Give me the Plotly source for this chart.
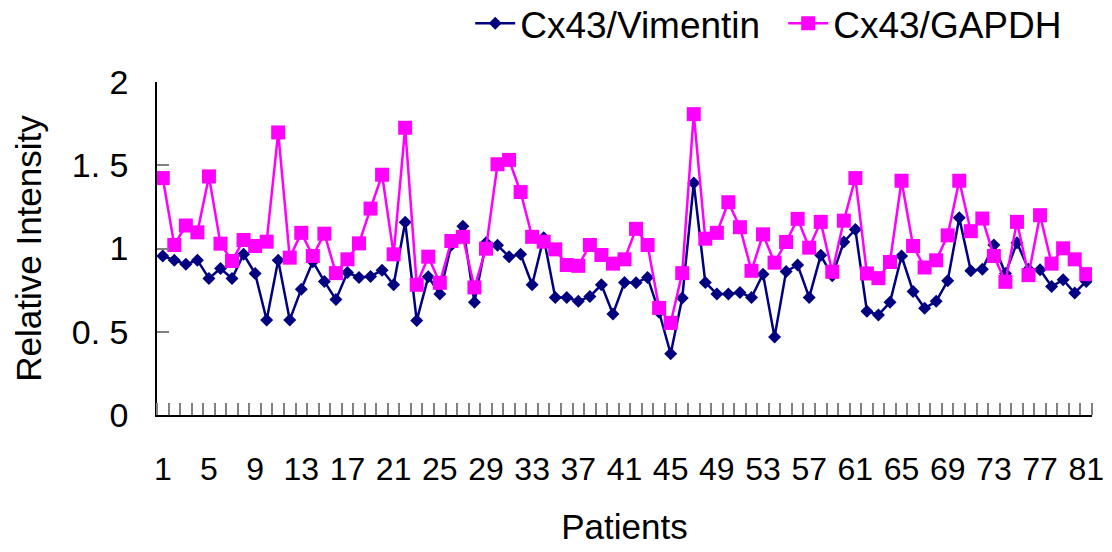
import plotly.graph_objects as go

patients = list(range(1, 82))

vimentin = [0.955, 0.929, 0.905, 0.93, 0.82, 0.88, 0.82, 0.965, 0.85, 0.571,
            0.929, 0.571, 0.756, 0.921, 0.802, 0.693, 0.856, 0.826, 0.832, 0.87,
            0.782, 1.158, 0.567, 0.830, 0.727, 1.021, 1.134, 0.677, 1.035, 1.019,
            0.951, 0.965, 0.782, 1.065, 0.706, 0.706, 0.683, 0.712, 0.782, 0.607,
            0.796, 0.794, 0.826, 0.617, 0.368, 0.703, 1.393, 0.796, 0.727, 0.727,
            0.736, 0.706, 0.846, 0.468, 0.862, 0.901, 0.706, 0.959, 0.836, 1.039,
            1.114, 0.623, 0.601, 0.677, 0.955, 0.742, 0.641, 0.683, 0.806, 1.184,
            0.866, 0.876, 1.021, 0.85, 1.035, 0.876, 0.872, 0.772, 0.812, 0.733,
            0.802]

gapdh = [1.423, 1.021, 1.138, 1.097, 1.433, 1.029, 0.925, 1.051, 1.015, 1.041,
         1.697, 0.945, 1.094, 0.955, 1.089, 0.852, 0.935, 1.031, 1.24, 1.443,
         0.965, 1.725, 0.782, 0.951, 0.794, 1.045, 1.07, 0.766, 0.999, 1.506,
         1.532, 1.339, 1.07, 1.041, 0.995, 0.901, 0.896, 1.021, 0.961, 0.909,
         0.935, 1.118, 1.021, 0.643, 0.553, 0.852, 1.807, 1.059, 1.094, 1.278,
         1.128, 0.866, 1.085, 0.915, 1.039, 1.178, 1.005, 1.16, 0.86, 1.167,
         1.423, 0.85, 0.822, 0.919, 1.407, 1.015, 0.886, 0.929, 1.079, 1.407,
         1.104, 1.18, 0.955, 0.8, 1.16, 0.84, 1.2, 0.909, 1.001, 0.935,
         0.846]

x_tick_vals = list(range(1, 82, 4))
x_tick_text = [str(v) for v in x_tick_vals]
y_tick_vals = [0, 0.5, 1, 1.5, 2]
y_tick_text = ["0", "0. 5", "1", "1. 5", "2"]

FONT = "Liberation Sans, Arial, sans-serif"

fig = go.Figure()
fig.add_trace(go.Scatter(
    x=patients, y=vimentin, name="Cx43/Vimentin", mode="lines+markers",
    line=dict(color="#000080", width=2.5),
    marker=dict(symbol="diamond", size=10, color="#000080"),
))
fig.add_trace(go.Scatter(
    x=patients, y=gapdh, name="Cx43/GAPDH", mode="lines+markers",
    line=dict(color="#FF00FF", width=2.5),
    marker=dict(symbol="square", size=14, color="#FF00FF"),
))

fig.update_layout(
    width=1112, height=552,
    margin=dict(l=157, r=20, t=82, b=137, autoexpand=False),
    paper_bgcolor="white", plot_bgcolor="white",
    font=dict(family=FONT, size=34, color="black"),
    showlegend=True,
    legend=dict(orientation="h", x=0.335, xanchor="left", y=1.175, yanchor="middle",
                font=dict(size=37), itemwidth=40, bgcolor="rgba(0,0,0,0)",
                entrywidth=258, entrywidthmode="pixels",
                tracegroupgap=0),
    xaxis=dict(
        range=[0.5, 81.5], tickmode="array", tickvals=x_tick_vals, ticktext=x_tick_text,
        ticks="", showgrid=False, zeroline=False,
        showline=True, linecolor="black", linewidth=1.5,
        ticklabelstandoff=25,
        tickfont=dict(size=32),
        minor=dict(tickmode="linear", tick0=0.5, dtick=1, ticks="inside",
                   ticklen=12, tickcolor="#808080", tickwidth=1.5, showgrid=False),
        title=dict(text="Patients", font=dict(size=35), standoff=28),
    ),
    yaxis=dict(
        range=[0, 2], tickmode="array", tickvals=y_tick_vals, ticktext=y_tick_text,
        ticks="inside", ticklen=12, tickcolor="#808080", tickwidth=1.5,
        showgrid=False, zeroline=False,
        showline=True, linecolor="black", linewidth=1.5,
        ticklabelstandoff=20,
        tickfont=dict(size=34),
        title=dict(text="Relative Intensity", font=dict(size=35), standoff=19),
    ),
)

fig.write_html("out.html")
